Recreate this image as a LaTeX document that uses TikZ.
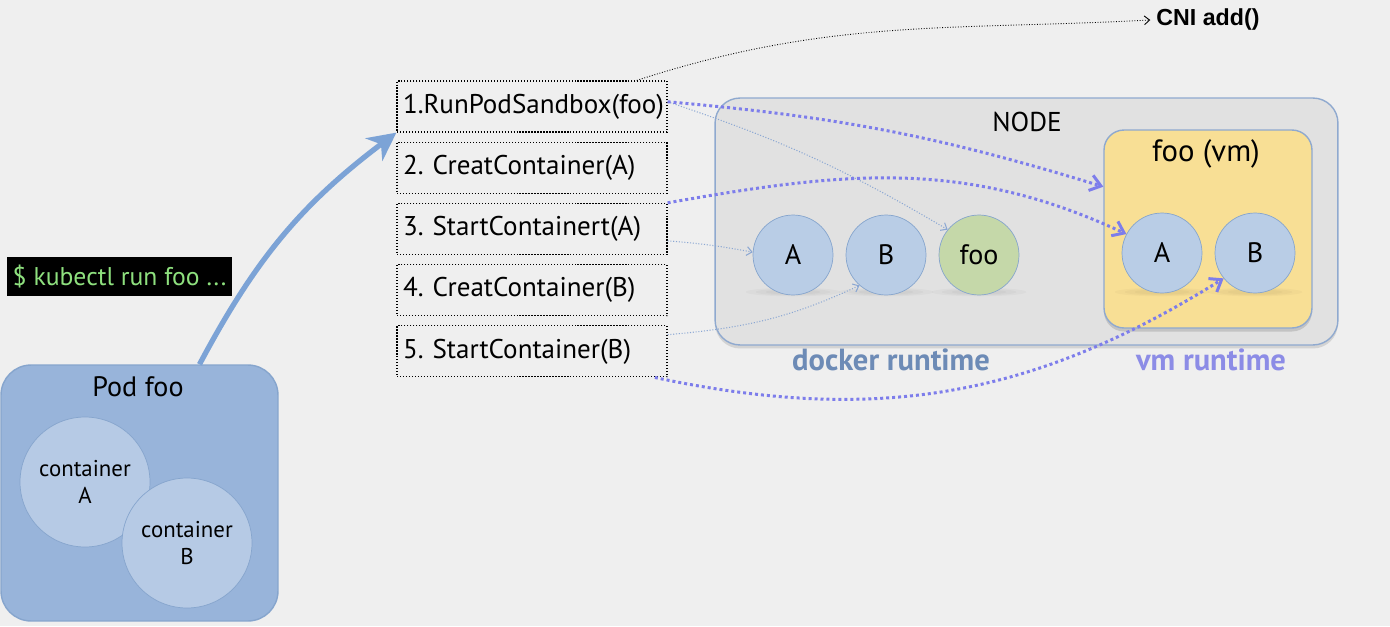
\documentclass[tikz,border=0pt]{standalone}
\usepackage{fontspec}
\setmainfont{PT Sans}
\newfontfamily\cnifont{Liberation Sans}
\usetikzlibrary{arrows.meta, shadows, positioning}

\definecolor{bg}{HTML}{EFEFEF}
\definecolor{nodefill}{HTML}{E1E1E1}
\definecolor{boxline}{HTML}{8FA9CF}
\definecolor{vmfill}{HTML}{F8DF95}
\definecolor{ctrfill}{HTML}{B9CDE6}
\definecolor{ctrline}{HTML}{86A5CD}
\definecolor{foofill}{HTML}{C5D8A9}
\definecolor{podfill}{HTML}{98B4DA}
\definecolor{podctr}{HTML}{B6CAE5}
\definecolor{bigblue}{HTML}{7CA3D6}
\definecolor{vmblue}{HTML}{7D7DEB}
\definecolor{thinblue}{HTML}{8BA7D3}
\definecolor{dockertext}{HTML}{6D8BB6}
\definecolor{vmtext}{HTML}{8C8CE6}
\definecolor{termgreen}{HTML}{8EE07E}

\begin{document}
\begin{tikzpicture}[x=0.02cm, y=-0.02cm,
    stepbox/.style={draw, densely dotted, line width=0.7pt, minimum width=5.4cm,
      minimum height=1.02cm, text width=5.16cm, inner xsep=0.12cm, inner ysep=0pt,
      align=left, font=\frenchspacing\fontsize{15.4}{17}\selectfont},
    ctr/.style={circle, draw=ctrline, fill=ctrfill, minimum size=1.6cm, inner sep=0pt,
      font=\fontsize{16}{18}\selectfont},
    podc/.style={circle, draw=ctrline, fill=podctr, minimum size=2.6cm, inner sep=0pt,
      align=center, font=\fontsize{13}{15.5}\selectfont},
    vmarrow/.style={vmblue, line width=1.7pt, dash pattern=on 1.7pt off 1.7pt,
      -{Straight Barb[length=6pt, width=9pt]}},
    thinarrow/.style={thinblue, line width=0.6pt, densely dotted,
      -{Straight Barb[length=3pt, width=5pt]}}]
  \fill[bg] (0,0) rectangle (1390,626);%
  \useasboundingbox (0,0) rectangle (1390,626);%

  % node with both runtimes
  \node[draw=boxline, fill=nodefill, line width=0.8pt, rounded corners=0.5cm,
    minimum width=12.46cm, minimum height=4.94cm,
    drop shadow={opacity=0.25, shadow xshift=0pt, shadow yshift=-2pt}] (N) at (1026.5,221.5) {};%
  \node[font=\fontsize{15.5}{17}\selectfont] (NT) at (1027,122) {NODE};%
  \node[draw=boxline, fill=vmfill, line width=0.8pt, rounded corners=0.4cm,
    minimum width=4.16cm, minimum height=3.96cm,
    drop shadow={opacity=0.3, shadow xshift=0pt, shadow yshift=-2pt}] (V) at (1208,229) {};%
  \node[font=\fontsize{17.5}{19}\selectfont] (VT) at (1206,154) {foo (vm)};%

  % soft shadows below the containers
  \foreach \cx in {793, 886, 979, 1162, 1255}
    \foreach \r in {0.95, 0.75, 0.55}
      \fill[black, opacity=0.025] (\cx,292) ellipse [x radius=\r cm, y radius=0.09*\r cm];%
  \node[ctr] (DA) at (793,255) {A};%
  \node[ctr] (DB) at (886,255) {B};%
  \node[ctr, fill=foofill] (DF) at (979,255) {foo};%
  \node[ctr] (VA) at (1162,253) {A};%
  \node[ctr] (VB) at (1255,253) {B};%

  \node[text=dockertext, font=\bfseries\fontsize{17.4}{19}\selectfont] (DR) at (891,360) {docker runtime};%
  \node[text=vmtext, font=\bfseries\fontsize{17.4}{19}\selectfont] (VR) at (1211,360) {vm runtime};%

  % the CRI calls
  \node[stepbox] (S1) at (532,106.5) {1.RunPodSandbox(foo)};%
  \node[stepbox, below=0.18cm of S1] (S2) {2. CreatContainer(A)};%
  \node[stepbox, below=0.18cm of S2] (S3) {3. StartContainert(A)};%
  \node[stepbox, below=0.18cm of S3] (S4) {4. CreatContainer(B)};%
  \node[stepbox, below=0.18cm of S4] (S5) {5. StartContainer(B)};%

  \node[font=\cnifont\bfseries\fontsize{13.2}{15}\selectfont] (CNI) at (1208,20) {CNI add()};%

  % the pod
  \node[draw=ctrline, fill=podfill, line width=0.8pt, rounded corners=0.6cm,
    minimum width=5.54cm, minimum height=5.12cm] (P) at (139.5,493) {};%
  \node[font=\fontsize{16}{18}\selectfont] (PT) at (138,387) {Pod foo};%
  \node[podc] (CA) at (85,482) {container\\A};%
  \node[podc] (CB) at (187,543) {container\\B};%

  \node[fill=black, text=termgreen, minimum width=4.5cm, minimum height=0.78cm,
    inner sep=0pt, font=\fontsize{14.6}{16}\selectfont] (K) at (119.5,276.5) {\$ kubectl run foo ...};%

  % connectors
  \draw[bigblue, line width=3pt, -{Stealth[length=16pt, width=16pt, inset=5pt]}]
    (P.65) to[out=62, in=217] (S1.south west);%
  \draw[black, line width=0.5pt, densely dotted, -{Straight Barb[length=3pt, width=5pt]}]
    (S1.14) to[out=18, in=183] (CNI.west);%
  \draw[thinarrow] (S1.2) to[bend left=6] (DF.141);%
  \draw[thinarrow] (S3.-5) to[bend left=3] (DA.176);%
  \draw[thinarrow] (S5.7) to[out=5, in=205] (DB.229);%
  \draw[vmarrow] (S1.2) to[bend left=6] (V.158);%
  \draw[vmarrow] (S3.north east) to[out=10, in=155] (VA.152);%
  \draw[vmarrow] (S5.-12) to[out=-12, in=212] (VB.219);%
\end{tikzpicture}
\end{document}
